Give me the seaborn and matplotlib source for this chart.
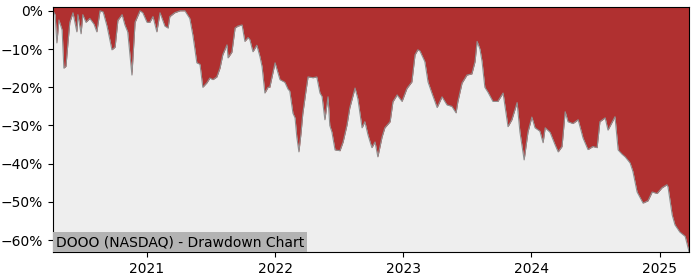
import matplotlib
matplotlib.use("Agg")
import matplotlib.pyplot as plt
import matplotlib.dates as mdates
from matplotlib.ticker import PercentFormatter
import pandas as pd
import seaborn as sns

dates = [
    "2020-04-08", "2020-04-14", "2020-04-19", "2020-04-25", "2020-05-04", "2020-05-09", "2020-05-15",
    "2020-05-21", "2020-05-26", "2020-06-04", "2020-06-15", "2020-06-18", "2020-06-27", "2020-07-02",
    "2020-07-11", "2020-07-22", "2020-08-03", "2020-08-11", "2020-08-20", "2020-08-29", "2020-09-09",
    "2020-09-23", "2020-10-02", "2020-10-10", "2020-10-22", "2020-10-30", "2020-11-07", "2020-11-19",
    "2020-11-28", "2020-12-12", "2020-12-20", "2021-01-01", "2021-01-09", "2021-01-18", "2021-01-29",
    "2021-02-07", "2021-02-21", "2021-03-02", "2021-03-07", "2021-03-21", "2021-04-05", "2021-04-19",
    "2021-05-03", "2021-05-12", "2021-05-23", "2021-06-01", "2021-06-09", "2021-06-21", "2021-06-29",
    "2021-07-08", "2021-07-19", "2021-07-28", "2021-08-05", "2021-08-17", "2021-08-20", "2021-08-31",
    "2021-09-09", "2021-09-17", "2021-09-29", "2021-10-07", "2021-10-16", "2021-10-21", "2021-10-30",
    "2021-11-10", "2021-11-19", "2021-11-25", "2021-12-03", "2021-12-12", "2021-12-17", "2022-01-01",
    "2022-01-15", "2022-01-29", "2022-02-07", "2022-02-12", "2022-02-21", "2022-02-27", "2022-03-04",
    "2022-03-10", "2022-03-16", "2022-03-21", "2022-03-30", "2022-04-05", "2022-04-19", "2022-04-30",
    "2022-05-09", "2022-05-15", "2022-05-23", "2022-06-01", "2022-06-06", "2022-06-12", "2022-06-21",
    "2022-07-05", "2022-07-14", "2022-07-25", "2022-08-02", "2022-08-17", "2022-08-25", "2022-09-06",
    "2022-09-14", "2022-09-23", "2022-10-04", "2022-10-13", "2022-10-21", "2022-11-02", "2022-11-10",
    "2022-11-25", "2022-12-03", "2022-12-15", "2022-12-29", "2023-01-12", "2023-01-26", "2023-02-04",
    "2023-02-12", "2023-02-18", "2023-03-04", "2023-03-13", "2023-03-24", "2023-04-08", "2023-04-22",
    "2023-05-06", "2023-05-20", "2023-06-01", "2023-06-06", "2023-06-18", "2023-07-02", "2023-07-16",
    "2023-07-25", "2023-07-31", "2023-08-08", "2023-08-14", "2023-08-22", "2023-08-31", "2023-09-14",
    "2023-09-28", "2023-10-13", "2023-10-27", "2023-11-07", "2023-11-22", "2023-11-30", "2023-12-12",
    "2023-12-23", "2024-01-03", "2024-01-12", "2024-01-26", "2024-02-04", "2024-02-10", "2024-02-24",
    "2024-03-09", "2024-03-18", "2024-03-29", "2024-04-07", "2024-04-15", "2024-04-29", "2024-05-14",
    "2024-05-28", "2024-06-11", "2024-06-25", "2024-07-07", "2024-07-15", "2024-07-30", "2024-08-07",
    "2024-08-27", "2024-09-05", "2024-09-16", "2024-09-25", "2024-10-09", "2024-10-17", "2024-10-29",
    "2024-11-15", "2024-11-29", "2024-12-11", "2024-12-25", "2025-01-08", "2025-01-22", "2025-01-25",
    "2025-02-06", "2025-02-14", "2025-02-28", "2025-03-15", "2025-03-26",
]

drawdown_pct = [
    0, -1, -8.4, -2.4, -5, -15, -14.5,
    -8, -3, -0.5, -5.5, -1, -6, -1,
    -3, -2, -3.5, -5.5, 0, -0.3, -4,
    -10.2, -9.5, -2.5, -1, -3.7, -5.5, -16.8,
    -3, 0, -0.5, -3, -3, -1.5, -5.5,
    -0.5, -4, -4.5, -1.5, -0.5, 0, 0,
    -2, -6.5, -13.6, -14, -20, -18.8, -17.6,
    -18, -17.3, -15, -11.5, -8.9, -12.3, -10.8,
    -4.5, -4, -3.7, -8, -7, -7.5, -10.7,
    -9, -12, -14.6, -21.5, -20, -20, -13.6,
    -18, -18.7, -20.5, -21, -26.8, -28, -33,
    -36.9, -32, -27, -21, -17.3, -17.5, -17.3,
    -21.5, -22.4, -28.5, -22.5, -30, -31.7, -36.4,
    -36.6, -34.3, -29.9, -25.4, -20.2, -23, -30.6,
    -29, -32.5, -35.8, -34.3, -38.2, -33, -30.6,
    -29, -23.8, -22, -23.7, -20.3, -18.6, -11.5,
    -10.2, -10.5, -13.3, -18.6, -21.5, -25.3, -22.5,
    -24.6, -25, -26.7, -23.8, -18.9, -16.8, -16.5,
    -13.3, -8, -10, -13.2, -20, -21.3, -23.7,
    -23.7, -21.5, -30.3, -28.5, -24, -31.7, -39,
    -31.7, -27.8, -30.6, -31.5, -34.5, -30.6, -31.8,
    -35, -36.9, -35.5, -26.4, -29, -29.5, -28.5,
    -33.3, -36.3, -35.5, -35.8, -29, -28, -31.2,
    -27.7, -36.4, -37.5, -38.2, -39.8, -42, -47.4,
    -50.3, -49.7, -47.4, -47.8, -46.3, -45.5, -46,
    -53.4, -56, -57.9, -59, -63,
]

title_text = "DOOO (NASDAQ) - Drawdown Chart"

df = pd.DataFrame({"date": pd.to_datetime(dates), "dd": drawdown_pct})

fig = plt.figure(figsize=(7, 2.8), dpi=100)
ax = fig.add_axes([0.0757, 0.10, 0.9086, 0.875])
ax.set_facecolor("#eeeeee")

ax.fill_between(df["date"], df["dd"], 1, color="#b03030", linewidth=0, zorder=1)
sns.lineplot(data=df, x="date", y="dd", ax=ax, color="#8f8f8f", linewidth=0.8, zorder=2)

ax.set_xlim(pd.Timestamp("2020-04-08"), pd.Timestamp("2025-03-26"))
ax.set_ylim(-63.1, 1)
ax.set_yticks([0, -10, -20, -30, -40, -50, -60])
ax.yaxis.set_major_formatter(PercentFormatter(xmax=100, decimals=0))
ax.xaxis.set_major_locator(mdates.YearLocator())
ax.xaxis.set_major_formatter(mdates.DateFormatter("%Y"))
ax.set_xlabel("")
ax.set_ylabel("")
ax.tick_params(labelsize=10)

ax.text(0.005, 0.012, title_text, transform=ax.transAxes, fontsize=10, color="black",
        ha="left", va="bottom", zorder=5,
        bbox=dict(facecolor="#b3b3b3", edgecolor="none", pad=2.2))

fig.savefig("out.png", dpi=100)
